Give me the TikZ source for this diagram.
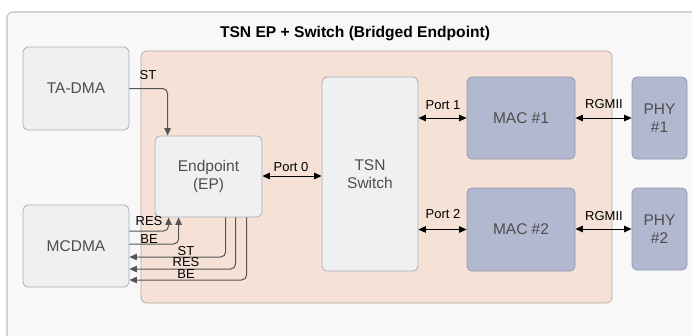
\documentclass[tikz,border=0pt]{standalone}
\usepackage{fontspec}
\setmainfont{Liberation Sans}
\usetikzlibrary{arrows.meta,calc}

\definecolor{framefill}{HTML}{F8F8F8}
\definecolor{frameline}{HTML}{BFBFBF}
\definecolor{zonefill}{HTML}{F5E1D6}
\definecolor{zoneline}{HTML}{B8AAA2}
\definecolor{boxfill}{HTML}{EEF0F1}
\definecolor{boxline}{HTML}{ABAFB3}
\definecolor{macfill}{HTML}{B1B8CF}
\definecolor{macline}{HTML}{9097AF}
\definecolor{boxtext}{HTML}{4E4E4E}
\definecolor{sigline}{HTML}{555555}

\begin{document}
\begin{tikzpicture}[x=1pt,y=-1pt,
  block/.style={draw=boxline, fill=boxfill, rounded corners=5pt, text=boxtext,
    font=\fontsize{15.5}{17.5}\selectfont, align=center, inner sep=0pt, line width=0.8pt},
  macblock/.style={block, draw=macline, fill=macfill},
  sig/.style={draw=sigline, line width=1pt, rounded corners=5pt,
    -{Triangle[length=7.5pt,width=6.5pt]}},
  port/.style={draw=black, line width=0.9pt,
    {Triangle[length=7.5pt,width=6.5pt]}-{Triangle[length=7.5pt,width=6.5pt]}},
  lbl/.style={font=\fontsize{13}{14}\selectfont, inner sep=0pt, text=black}]

\path[use as bounding box, clip] (0,0) rectangle (692,335);
\fill[white] (0,0) rectangle (692,335);

% outer frame
\draw[draw=frameline, fill=framefill, line width=1.1pt, rounded corners=6pt]
  (7,360) rectangle (720,12);
\node[font=\bfseries\fontsize{15.6}{17}\selectfont] (title) at (355,33)
  {TSN EP + Switch (Bridged Endpoint)};

% bridged endpoint zone
\draw[draw=zoneline, fill=zonefill, line width=0.8pt, rounded corners=6pt]
  (141,51) rectangle (612,303);

% blocks
\node[block, minimum width=106pt, minimum height=83pt] (tadma) at (76,88.5) {TA-DMA};
\node[block, minimum width=106pt, minimum height=82pt] (mcdma) at (76,246) {MCDMA};
\node[block, minimum width=107pt, minimum height=81pt] (ep) at (208.5,176.5) {Endpoint\\(EP)};
\node[block, minimum width=96pt, minimum height=194pt] (sw) at (370,174) {TSN\\Switch};
\node[macblock, minimum width=108pt, minimum height=82pt] (mac1) at (521,118) {MAC \#1};
\node[macblock, minimum width=108pt, minimum height=83pt] (mac2) at (521,229.5) {MAC \#2};
\node[macblock, minimum width=55pt, minimum height=82pt] (phy1) at (659.5,118) {PHY\\\#1};
\node[macblock, minimum width=55pt, minimum height=82pt] (phy2) at (659.5,229) {PHY\\\#2};

% data paths TA-DMA / MCDMA <-> endpoint
\draw[sig] (tadma.east) -| ($(ep.north west)+(13,0)$);
\draw[sig] ($(mcdma.east)+(0,-15)$) -| ($(ep.south west)+(14,0)$);
\draw[sig] ($(mcdma.east)+(0,-2)$) -| ($(ep.south west)+(24,0)$);
\draw[sig] ($(ep.south west)+(71,0)$) |- ($(mcdma.east)+(0,11)$);
\draw[sig] ($(ep.south west)+(81,0)$) |- ($(mcdma.east)+(0,23)$);
\draw[sig] ($(ep.south west)+(92,0)$) |- ($(mcdma.east)+(0,34)$);

\node[lbl] (lst) at (148,75) {ST};
\node[lbl] (lres) at (149,221) {RES};
\node[lbl] (lbe) at (149,239) {BE};
\node[lbl] (ost) at (186,251) {ST};
\node[lbl] (ores) at (186,262.5) {RES};
\node[lbl] (obe) at (186,274) {BE};

% ports
\draw[port] (ep.east |- 0,176) -- (sw.west |- 0,176);
\draw[port] (sw.east |- mac1.west) -- (mac1.west);
\draw[port] (sw.east |- mac2.west) -- (mac2.west);
\draw[port] (mac1.east) -- (phy1.west);
\draw[port] (mac2.east |- phy2.west) -- (phy2.west);

\node[lbl] (p0) at (291,167) {Port 0};
\node[lbl] (p1) at (443,105) {Port 1};
\node[lbl] (p2) at (443,214) {Port 2};
\node[lbl] (r1) at (604,104) {RGMII};
\node[lbl] (r2) at (604,216) {RGMII};
\end{tikzpicture}
\end{document}
